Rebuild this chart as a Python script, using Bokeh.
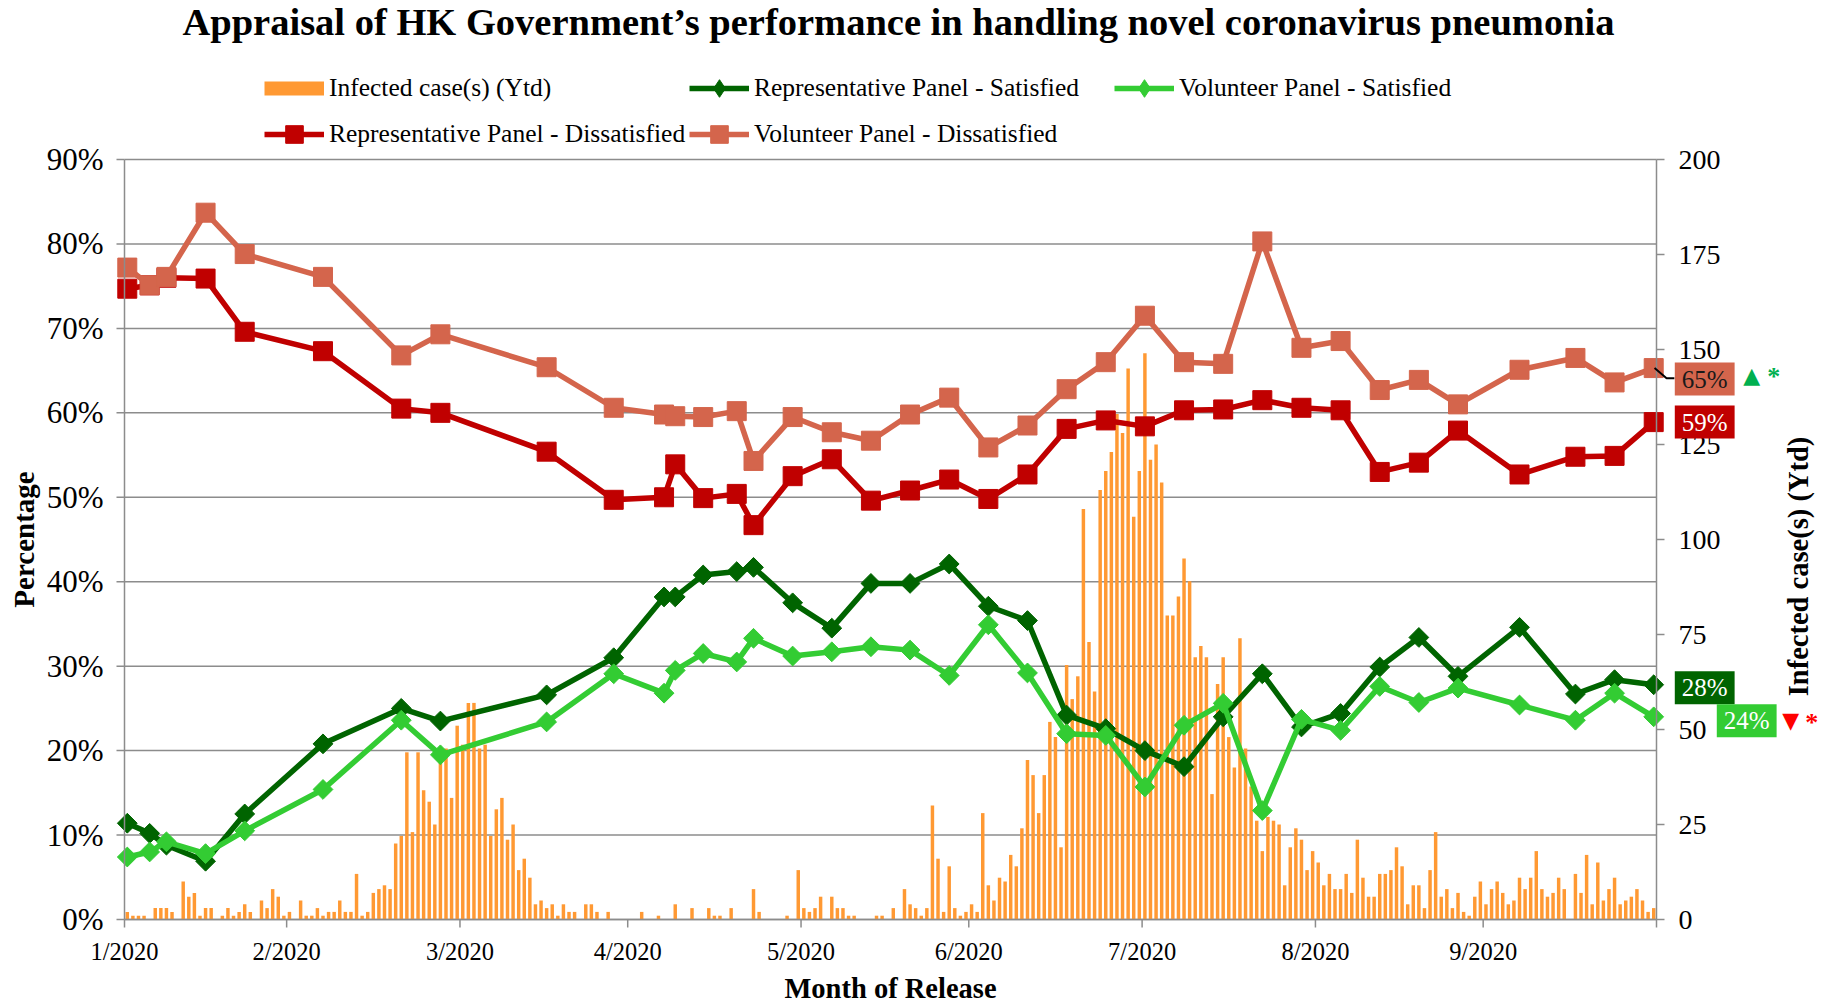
import numpy as np
from bokeh.plotting import figure
from bokeh.models import Range1d, Legend, LegendItem
from bokeh.core.properties import value
from bokeh.embed import file_html
from bokeh.resources import INLINE

# ---------------- data ----------------
title_text = "Appraisal of HK Government\u2019s performance in handling novel coronavirus pneumonia"
x_title = "Month of Release"
y_title = "Percentage"

# x axis: day offsets of the month ticks and their labels (axis ends at day 274)
month_ticks = [0, 29, 60, 90, 121, 151, 182, 213, 243, 274]
month_labels = ["1/2020", "2/2020", "3/2020", "4/2020", "5/2020", "6/2020",
                "7/2020", "8/2020", "9/2020", ""]
pct_ticks = [0, 10, 20, 30, 40, 50, 60, 70, 80, 90]
case_ticks = [0, 25, 50, 75, 100, 125, 150, 175, 200]

# survey release days (day offset on the x axis)
release_day = [0, 4, 7, 14, 21, 35, 49, 56, 75, 87, 96, 98, 103, 109, 112, 119, 126,
               133, 140, 147, 154, 161, 168, 175, 182, 189, 196, 203, 210, 217, 224,
               231, 238, 249, 259, 266, 273]
rep_satisfied = [11.4, 10.2, 8.8, 6.9, 12.5, 20.8, 25.0, 23.5, 26.6, 31.0,
                 38.2, 38.2, 40.8, 41.2, 41.7, 37.5, 34.5, 39.8, 39.8, 42.1,
                 37.1, 35.4, 24.2, 22.6, 20.0, 18.1, 24.0, 29.1, 22.8, 24.4,
                 29.9, 33.4, 28.8, 34.6, 26.7, 28.4, 27.8]
vol_satisfied = [7.4, 8.0, 9.2, 7.8, 10.5, 15.4, 23.6, 19.5, 23.4, 29.1,
                 26.8, 29.5, 31.5, 30.5, 33.3, 31.2, 31.7, 32.3, 31.9, 28.9,
                 34.9, 29.2, 22.0, 21.8, 15.7, 23.0, 25.6, 12.9, 23.7, 22.4,
                 27.6, 25.7, 27.4, 25.4, 23.6, 26.8, 24.0]
rep_dissatisfied = [74.7, 75.1, 76.0, 75.9, 69.6, 67.3, 60.5, 60.0, 55.4, 49.7,
                    50.0, 53.9, 49.9, 50.4, 46.7, 52.5, 54.5, 49.6, 50.8, 52.1,
                    49.8, 52.7, 58.1, 59.1, 58.4, 60.3, 60.4, 61.5, 60.6, 60.3,
                    53.0, 54.1, 57.9, 52.7, 54.8, 54.9, 58.9]
vol_dissatisfied = [77.2, 75.1, 76.1, 83.7, 78.8, 76.1, 66.8, 69.3, 65.4, 60.6,
                    59.8, 59.6, 59.5, 60.2, 54.3, 59.5, 57.7, 56.7, 59.8, 61.8,
                    55.9, 58.5, 62.8, 66.0, 71.5, 66.0, 65.8, 80.3, 67.7, 68.5,
                    62.7, 63.9, 61.0, 65.1, 66.5, 63.6, 65.3]

# daily infected cases (yesterday), one value per day on the axis
cases = [2, 1, 1, 1, 0, 3, 3, 3, 2, 0,
         10, 6, 7, 1, 3, 3, 0, 1, 3, 1,
         2, 4, 2, 0, 5, 3, 8, 6, 1, 2,
         0, 5, 1, 1, 3, 1, 2, 2, 5, 2,
         2, 12, 1, 2, 7, 8, 9, 8, 20, 22,
         44, 23, 44, 34, 31, 25, 42, 45, 32, 51,
         46, 57, 57, 45, 46, 22, 29, 32, 21, 25,
         13, 16, 11, 4, 5, 3, 4, 1, 4, 2,
         2, 0, 4, 4, 2, 0, 2, 0, 0, 0,
         0, 0, 2, 0, 0, 1, 0, 0, 4, 0,
         0, 3, 0, 0, 3, 1, 1, 0, 3, 0,
         0, 0, 8, 2, 0, 0, 0, 0, 1, 0,
         13, 3, 2, 3, 6, 0, 6, 3, 3, 1,
         1, 0, 0, 0, 1, 1, 0, 3, 0, 8,
         4, 3, 1, 3, 30, 16, 2, 14, 3, 1,
         2, 4, 2, 28, 9, 5, 11, 10, 17, 14,
         24, 42, 38, 28, 38, 52, 48, 19, 67, 58,
         64, 108, 73, 60, 113, 118, 123, 133, 128, 145,
         106, 118, 149, 121, 125, 115, 80, 80, 85, 95,
         89, 69, 72, 69, 33, 62, 69, 48, 40, 74,
         45, 35, 26, 18, 27, 26, 25, 9, 19, 24,
         21, 13, 18, 15, 9, 12, 8, 8, 12, 7,
         21, 11, 6, 6, 12, 12, 13, 19, 14, 4,
         9, 9, 3, 13, 23, 6, 8, 3, 7, 2,
         1, 6, 10, 4, 8, 10, 7, 4, 5, 11,
         8, 11, 18, 8, 6, 7, 11, 8, 0, 12,
         7, 17, 4, 15, 5, 8, 11, 4, 5, 6,
         8, 5, 2, 3]

series_names = ["Infected case(s) (Ytd)", "Representative Panel - Satisfied",
                "Volunteer Panel - Satisfied", "Representative Panel - Dissatisfied",
                "Volunteer Panel - Dissatisfied"]

# ---------------- style / layout ----------------
ORANGE = "#FF9933"
DGREEN = "#006400"
LGREEN = "#33CC33"
DRED = "#C00000"
SALMON = "#D4654C"
GRID = "#8C8C8C"
SERIF = "Liberation Serif"

FIG_W, FIG_H = 1827, 1003
AX_LEFT_PX, AX_RIGHT_PX = 124, 1656      # pixel columns of the two y axes
AX_BOTTOM_PX, AX_TOP_PX = 919, 159       # pixel rows of 0% and 90%
X_AXIS_END = month_ticks[-1]
Y_AXIS_END = pct_ticks[-1]
C_AXIS_END = case_ticks[-1]
px_x = (AX_RIGHT_PX - AX_LEFT_PX) / X_AXIS_END
px_y = (AX_BOTTOM_PX - AX_TOP_PX) / Y_AXIS_END
y_lo = -(FIG_H - AX_BOTTOM_PX) / px_y
y_hi = Y_AXIS_END + AX_TOP_PX / px_y
k_cases = C_AXIS_END / Y_AXIS_END

p = figure(width=FIG_W, height=FIG_H, output_backend="svg", toolbar_location=None,
           x_axis_type=None, y_axis_type=None,
           x_range=Range1d(-AX_LEFT_PX / px_x, X_AXIS_END + (FIG_W - AX_RIGHT_PX) / px_x),
           y_range=Range1d(y_lo, y_hi),
           min_border=0)
p.outline_line_color = None
p.background_fill_color = "white"
p.border_fill_color = "white"
p.extra_y_ranges = {"cases": Range1d(y_lo * k_cases, y_hi * k_cases)}
p.xgrid.visible = False
p.ygrid.visible = False

def txt(x, y, t, size, **kw):
    return p.text(x=x, y=y, text=t, text_font=value(kw.pop("font", SERIF)),
                  text_font_size=size, **kw)

n_pt = len(pct_ticks)
n_mt = len(month_ticks)
n_ct = len(case_ticks)

# grid lines over the data span
p.segment(x0=[0] * n_pt, x1=[X_AXIS_END] * n_pt, y0=pct_ticks, y1=pct_ticks,
          line_color=GRID, line_width=1.5)

# ---------------- marks ----------------
bar_x = [d + 0.5 for d in range(len(cases))]
rx = [d + 0.5 for d in release_day]

p.vbar(x=bar_x, top=cases, width=0.62, y_range_name="cases",
       fill_color=ORANGE, line_color=None)
# legend key for the bars: a zero-length thick stroke (invisible in the plot)
bar_key = p.line(x=[bar_x[0], bar_x[0]], y=[0, 0], y_range_name="cases",
                 line_color=ORANGE, line_width=14)

def series(vals, color, marker, size, angle, key_marker):
    ln = p.line(rx, vals, line_color=color, line_width=5.5)
    p.scatter(rx, vals, marker=marker, size=size, angle=angle,
              fill_color=color, line_color=color)
    # legend-only marker (size 0 in the plot)
    key = p.scatter(rx, vals, marker=key_marker, size=0, fill_color=color,
                    line_color=color)
    return [ln, key]

r_rs = series(rep_satisfied, DGREEN, "square", 14, np.pi / 4, "diamond")
r_vs = series(vol_satisfied, LGREEN, "square", 14, np.pi / 4, "diamond")
r_rd = series(rep_dissatisfied, DRED, "square", 19, 0, "square")
r_vd = series(vol_dissatisfied, SALMON, "square", 19, 0, "square")

# ---------------- axes (drawn) ----------------
# bottom axis
p.segment(x0=[0], x1=[X_AXIS_END], y0=[0], y1=[0], line_color=GRID, line_width=1.5)
p.ray(x=month_ticks, y=[0] * n_mt, length=8, length_units="screen", angle=-np.pi / 2,
      line_color=GRID, line_width=1.5)
txt(month_ticks, [0] * n_mt, month_labels, "24.5px", y_offset=32, text_align="center",
    text_baseline="middle", text_color="black")
txt([X_AXIS_END / 2], [0], [x_title], "28.5px", y_offset=69, text_align="center",
    text_baseline="middle", text_font_style="bold", text_color="black")

# left axis
p.segment(x0=[0], x1=[0], y0=[0], y1=[Y_AXIS_END], line_color=GRID, line_width=1.5)
p.ray(x=[0] * n_pt, y=pct_ticks, length=8, length_units="screen", angle=np.pi,
      line_color=GRID, line_width=1.5)
txt([0] * n_pt, pct_ticks, [f"{t}%" for t in pct_ticks], "31px", x_offset=-21,
    text_align="right", text_baseline="middle", text_color="black")
txt([0], [Y_AXIS_END / 2], [y_title], "29px", x_offset=-101, angle=np.pi / 2,
    text_align="center", text_baseline="middle", text_font_style="bold",
    text_color="black")

# right axis (cases)
p.segment(x0=[X_AXIS_END], x1=[X_AXIS_END], y0=[0], y1=[C_AXIS_END],
          y_range_name="cases", line_color=GRID, line_width=1.5)
p.ray(x=[X_AXIS_END] * n_ct, y=case_ticks, length=8, length_units="screen", angle=0,
      y_range_name="cases", line_color=GRID, line_width=1.5)
txt([X_AXIS_END] * n_ct, case_ticks, [str(t) for t in case_ticks], "28px",
    y_range_name="cases", x_offset=22, text_align="left", text_baseline="middle",
    text_color="black")
txt([X_AXIS_END], [C_AXIS_END / 2], [series_names[0]], "28.5px", y_range_name="cases",
    angle=np.pi / 2, x_offset=142, y_offset=27, text_align="center",
    text_baseline="middle", text_font_style="bold", text_color="black")

# title
txt([X_AXIS_END / 2], [Y_AXIS_END], [title_text], "38.5px", x_offset=8, y_offset=-137.5,
    text_align="center", text_baseline="middle", text_font_style="bold",
    text_color="black")

# legend
legend = Legend(items=[
    LegendItem(label=series_names[0], renderers=[bar_key]),
    LegendItem(label=series_names[1], renderers=r_rs),
    LegendItem(label=series_names[2], renderers=r_vs),
    LegendItem(label=series_names[3], renderers=r_rd),
    LegendItem(label=series_names[4], renderers=r_vd),
], orientation="horizontal", ncols=3, location=(264, 847),
    glyph_width=60, glyph_height=44, label_width=358, label_standoff=5, spacing=2,
    padding=0, margin=0,
    label_text_font=SERIF, label_text_font_size="25.5px", label_text_color="black",
    border_line_color=None, background_fill_alpha=0)
p.add_layout(legend)

# ---------------- right-hand annotations ----------------
last_x = rx[-1]
v = vol_dissatisfied[-1]
p.line([last_x + 0.15, last_x + 2.3, last_x + 3.7], [v, v - 1.2, v - 1.2],
       line_color="black", line_width=2)

box_specs = [
    (vol_dissatisfied[-1], SALMON, "#1a1a1a", 51, 11),
    (rep_dissatisfied[-1], DRED, "white", 51, 0),
    (rep_satisfied[-1], DGREEN, "white", 51, 3),
    (vol_satisfied[-1], LGREEN, "white", 93, 4),
]
for val, bg, fg, dx, dy in box_specs:
    txt([last_x], [val], [f"{round(val)}%"], "25px", x_offset=dx, y_offset=dy,
        text_align="center", text_baseline="middle", text_color=fg,
        background_fill_color=bg, padding=dict(left=7, right=7, top=3, bottom=3))

txt([last_x], [vol_dissatisfied[-1]], ["\u25B2"], "22px", font="DejaVu Sans",
    x_offset=98, y_offset=7, text_align="center", text_baseline="middle",
    text_color="#00B050")
txt([last_x], [vol_dissatisfied[-1]], ["*"], "26px", x_offset=120, y_offset=8,
    text_align="center", text_baseline="middle", text_font_style="bold",
    text_color="#00B050")
txt([last_x], [vol_satisfied[-1]], ["\u25BC"], "22px", font="DejaVu Sans",
    x_offset=137, y_offset=4, text_align="center", text_baseline="middle",
    text_color="#FF0000")
txt([last_x], [vol_satisfied[-1]], ["*"], "26px", x_offset=158, y_offset=6,
    text_align="center", text_baseline="middle", text_font_style="bold",
    text_color="#FF0000")

open("out.html", "w").write(file_html(p, INLINE))
